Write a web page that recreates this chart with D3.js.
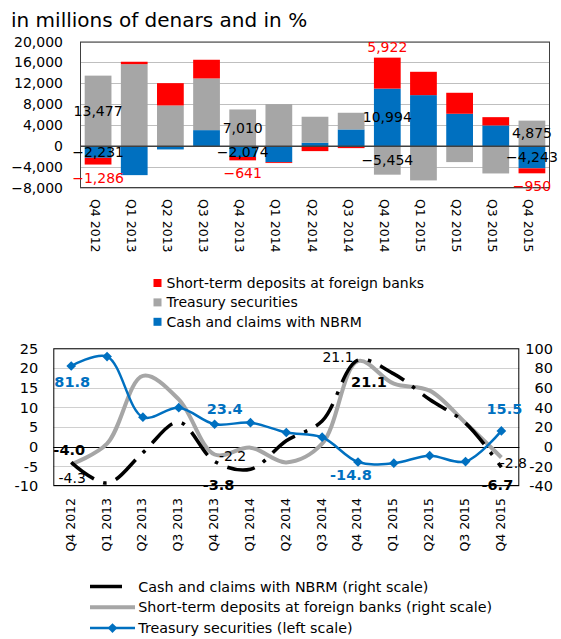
<!DOCTYPE html>
<html>
<head>
<meta charset="utf-8">
<script src="https://cdn.jsdelivr.net/npm/d3@7"></script>
<style>
  html, body { margin: 0; padding: 0; background: #fff; }
  svg { display: block; font-family: "DejaVu Sans", Verdana, sans-serif; }
</style>
</head>
<body>
<svg id="chart" width="561" height="639"></svg>
<script>
// ---------- DATA ----------
const categories = ["Q4 2012","Q1 2013","Q2 2013","Q3 2013","Q4 2013","Q1 2014","Q2 2014","Q3 2014","Q4 2014","Q1 2015","Q2 2015","Q3 2015","Q4 2015"];

// Top chart (millions of denars)
const cashClaims = [-2231, -5540, -630, 3060, -2074, -3060, 650, 3190, 10994, 9750, 6190, 3960, -4243];
const treasury   = [13477, 15670, 7777, 9880, 7010, 8030, 4970, 3190, -5454, -6550, -3050, -5220, 4875];
const deposits   = [-1286, 460, 4260, 3570, -641, -170, -950, -380, 5922, 4460, 4010, 1580, -950];
const topTicks   = [-8000, -4000, 0, 4000, 8000, 12000, 16000, 20000];
const topLabelled = [0, 4, 8, 12];

// Bottom chart (%)
const cashPct     = [-16, -37, -6, 25, -15, -23, 6, 26, 88, 74, 48, 24, -21];   // right scale
const depositsPct = [-18, 3, 72, 48, -8, -1, -16, 3, 87, 64, 57, 24, -11];      // right scale
const treasuryPct = [20.5, 22.9, 7.5, 9.9, 5.7, 6.1, 3.6, 2.4, -3.9, -4.2, -2.3, -3.8, 4.0]; // left scale
const leftTicks  = [-10, -5, 0, 5, 10, 15, 20, 25];
const rightTicks = [-40, -20, 0, 20, 40, 60, 80, 100];
const cashLabels     = ["-4.0", "-3.8", "21.1", "-6.7"];
const depositsLabels = ["-4.3", "-2.2", "21.1", "-2.8"];
const treasuryLabels = ["81.8", "23.4", "-14.8", "15.5"];
const bottomLabelled = [0, 4, 8, 12];

const seriesTop = [
  {key: "cash", name: "Cash and claims with NBRM", values: cashClaims, color: "#0070C0"},
  {key: "treasury", name: "Treasury securities", values: treasury, color: "#A6A6A6"},
  {key: "deposits", name: "Short-term deposits at foreign banks", values: deposits, color: "#FF0000"}
];

const svg = d3.select("#chart");

// ---------- TITLE ----------
svg.append("text").attr("x", 11).attr("y", 27)
  .attr("font-size", 20).attr("fill", "#000")
  .text("in millions of denars and in %");

// ---------- TOP CHART ----------
const T = {l: 80, r: 550, t: 41.5, b: 188};
const xT = d3.scaleBand().domain(categories).range([T.l, T.r]).paddingInner(0.26).paddingOuter(0.13);
const yT = d3.scaleLinear().domain([-8000, 20000]).range([T.b, T.t]);

const gTop = svg.append("g");
gTop.append("g").selectAll("line").data(topTicks).join("line")
  .attr("x1", T.l).attr("x2", T.r)
  .attr("y1", d => Math.round(yT(d)) + 0.5).attr("y2", d => Math.round(yT(d)) + 0.5)
  .attr("stroke", "#BFBFBF").attr("stroke-width", 1);

const rows = categories.map((c, i) => ({cat: c, cash: cashClaims[i], treasury: treasury[i], deposits: deposits[i]}));
const stack = d3.stack().keys(["cash", "treasury", "deposits"]).offset(d3.stackOffsetDiverging);
const stacked = stack(rows);
const colorOf = {cash: "#0070C0", treasury: "#A6A6A6", deposits: "#FF0000"};

gTop.append("g").selectAll("g").data(stacked).join("g")
  .attr("fill", d => colorOf[d.key])
  .selectAll("rect").data(d => d).join("rect")
  .attr("x", d => xT(d.data.cat))
  .attr("width", xT.bandwidth())
  .attr("y", d => yT(Math.max(d[0], d[1])))
  .attr("height", d => Math.abs(yT(d[0]) - yT(d[1])));

gTop.append("line").attr("x1", T.l).attr("x2", T.r)
  .attr("y1", yT(0)).attr("y2", yT(0)).attr("stroke", "#404040").attr("stroke-width", 1.5);

gTop.append("rect").attr("x", T.l + 0.5).attr("y", T.t + 0.5)
  .attr("width", T.r - T.l - 1).attr("height", T.b - T.t - 1)
  .attr("fill", "none").attr("stroke", "#404040").attr("stroke-width", 1);

const fmt = d3.format(",");
gTop.append("g").selectAll("text").data(topTicks).join("text")
  .attr("x", 63).attr("y", d => yT(d)).attr("dy", "0.36em")
  .attr("text-anchor", "end").attr("font-size", 14).attr("fill", "#000")
  .text(d => fmt(d));

gTop.append("g").selectAll("text").data(categories).join("text")
  .attr("transform", d => `translate(${xT(d) + xT.bandwidth() / 2 - 3},199) rotate(90)`)
  .attr("dy", "0.36em").attr("font-size", 12.5).attr("fill", "#000")
  .text(d => d);

const segLabel = [];
stacked.forEach(s => {
  topLabelled.forEach(i => {
    const d = s[i];
    const v = s.key === "cash" ? cashClaims[i] : s.key === "treasury" ? treasury[i] : deposits[i];
    let y, color = "#000";
    if (s.key === "deposits") {
      color = "#FF0000";
      y = v >= 0 ? yT(d[1]) - 11 : yT(d[0]) + 13;
    } else {
      y = (yT(d[0]) + yT(d[1])) / 2;
    }
    segLabel.push({x: xT(categories[i]) + xT.bandwidth() / 2, y, text: fmt(v), color});
  });
});
gTop.append("g").selectAll("text").data(segLabel).join("text")
  .attr("x", d => d.x).attr("y", d => d.y).attr("dy", "0.36em")
  .attr("text-anchor", "middle").attr("font-size", 14).attr("fill", d => d.color)
  .text(d => d.text);

const legTop = [seriesTop[2], seriesTop[1], seriesTop[0]];
const gLT = svg.append("g");
legTop.forEach((s, i) => {
  const y = 283 + i * 19.4;
  gLT.append("rect").attr("x", 153.5).attr("y", y - 4).attr("width", 8).attr("height", 8).attr("fill", s.color);
  gLT.append("text").attr("x", 166.5).attr("y", y).attr("dy", "0.36em")
    .attr("font-size", 14).attr("fill", "#000").text(s.name);
});

// ---------- BOTTOM CHART ----------
const B = {l: 53.3, r: 519.3, t: 348.3, b: 486};
const stepB = (B.r - B.l) / categories.length;
const xB = d3.scalePoint().domain(categories).range([B.l + stepB / 2, B.r - stepB / 2]);
const yL = d3.scaleLinear().domain([-10, 25]).range([B.b, B.t]);
const yR = d3.scaleLinear().domain([-40, 100]).range([B.b, B.t]);

const gB = svg.append("g");
gB.append("g").selectAll("line").data(leftTicks).join("line")
  .attr("x1", B.l).attr("x2", B.r)
  .attr("y1", d => Math.round(yL(d)) + 0.5).attr("y2", d => Math.round(yL(d)) + 0.5)
  .attr("stroke", "#D0D0D0").attr("stroke-width", 1);
gB.append("line").attr("x1", B.l).attr("x2", B.r)
  .attr("y1", Math.round(yL(0)) + 0.5).attr("y2", Math.round(yL(0)) + 0.5)
  .attr("stroke", "#000").attr("stroke-width", 1);
gB.append("rect").attr("x", B.l + 0.5).attr("y", B.t + 0.5)
  .attr("width", B.r - B.l - 1).attr("height", B.b - B.t - 1)
  .attr("fill", "none").attr("stroke", "#000").attr("stroke-width", 1);

const curve = d3.curveCatmullRom.alpha(0.5);
const lineR = d3.line().x((d, i) => xB(categories[i])).y(d => yR(d)).curve(curve);
const lineL = d3.line().x((d, i) => xB(categories[i])).y(d => yL(d)).curve(curve);

gB.append("path").datum(depositsPct).attr("d", lineR)
  .attr("fill", "none").attr("stroke", "#A6A6A6").attr("stroke-width", 4);
gB.append("path").datum(cashPct).attr("d", lineR)
  .attr("fill", "none").attr("stroke", "#000").attr("stroke-width", 3.5)
  .attr("stroke-dasharray", "28 10 3.5 10");
gB.append("path").datum(treasuryPct).attr("d", lineL)
  .attr("fill", "none").attr("stroke", "#0070C0").attr("stroke-width", 2.5);
const diamond = d3.symbol().type(d3.symbolDiamond2).size(60);
gB.append("g").selectAll("path").data(treasuryPct).join("path")
  .attr("d", diamond)
  .attr("transform", (d, i) => `translate(${xB(categories[i])},${yL(d)})`)
  .attr("fill", "#0070C0");

gB.append("g").selectAll("text").data(leftTicks).join("text")
  .attr("x", 38.3).attr("y", d => yL(d)).attr("dy", "0.36em")
  .attr("text-anchor", "end").attr("font-size", 14.5).text(d => d);
gB.append("g").selectAll("text").data(rightTicks).join("text")
  .attr("x", 553).attr("y", d => yR(d)).attr("dy", "0.36em")
  .attr("text-anchor", "end").attr("font-size", 14.5).text(d => d);
gB.append("g").selectAll("text").data(categories).join("text")
  .attr("transform", d => `translate(${xB(d) - 1},498) rotate(-90)`)
  .attr("dy", "0.36em").attr("text-anchor", "end").attr("font-size", 12.5).text(d => d);

const lab = [];
const tOff = [[1, 16], [10, -15], [-7, 13], [3, -22]];
const cOff = [[-2, -13], [4, 23], [11, 22], [-4, 17]];
const dOff = [[1, 14], [18, 1], [-20, -4], [12, 5]];
bottomLabelled.forEach((idx, k) => {
  const x = xB(categories[idx]);
  lab.push({x: x + tOff[k][0], y: yL(treasuryPct[idx]) + tOff[k][1], t: treasuryLabels[k], c: "#0070C0", w: "bold"});
  lab.push({x: x + cOff[k][0], y: yR(cashPct[idx]) + cOff[k][1], t: cashLabels[k], c: "#000", w: "bold"});
  lab.push({x: x + dOff[k][0], y: yR(depositsPct[idx]) + dOff[k][1], t: depositsLabels[k], c: "#000", w: "normal"});
});
gB.append("g").selectAll("text").data(lab).join("text")
  .attr("x", d => d.x).attr("y", d => d.y).attr("dy", "0.36em")
  .attr("text-anchor", "middle").attr("font-size", d => d.w === "bold" ? 14.5 : 14)
  .attr("font-weight", d => d.w).attr("fill", d => d.c).text(d => d.t);

const gLB = svg.append("g");
const legB = [
  {name: "Cash and claims with NBRM (right scale)", color: "#000", w: 3.5, x2: 122},
  {name: "Short-term deposits at foreign banks (right scale)", color: "#A6A6A6", w: 4, x2: 135},
  {name: "Treasury securities (left scale)", color: "#0070C0", w: 2.5, x2: 135, marker: true}
];
legB.forEach((s, i) => {
  const y = 586.5 + i * 20.8;
  gLB.append("line").attr("x1", 90).attr("x2", s.x2).attr("y1", y).attr("y2", y)
    .attr("stroke", s.color).attr("stroke-width", s.w);
  if (s.marker) {
    gLB.append("path").attr("d", diamond).attr("transform", `translate(112.5,${y})`).attr("fill", s.color);
  }
  gLB.append("text").attr("x", 138.3).attr("y", y).attr("dy", "0.36em")
    .attr("font-size", 14.3).text(s.name);
});
</script>
</body>
</html>
